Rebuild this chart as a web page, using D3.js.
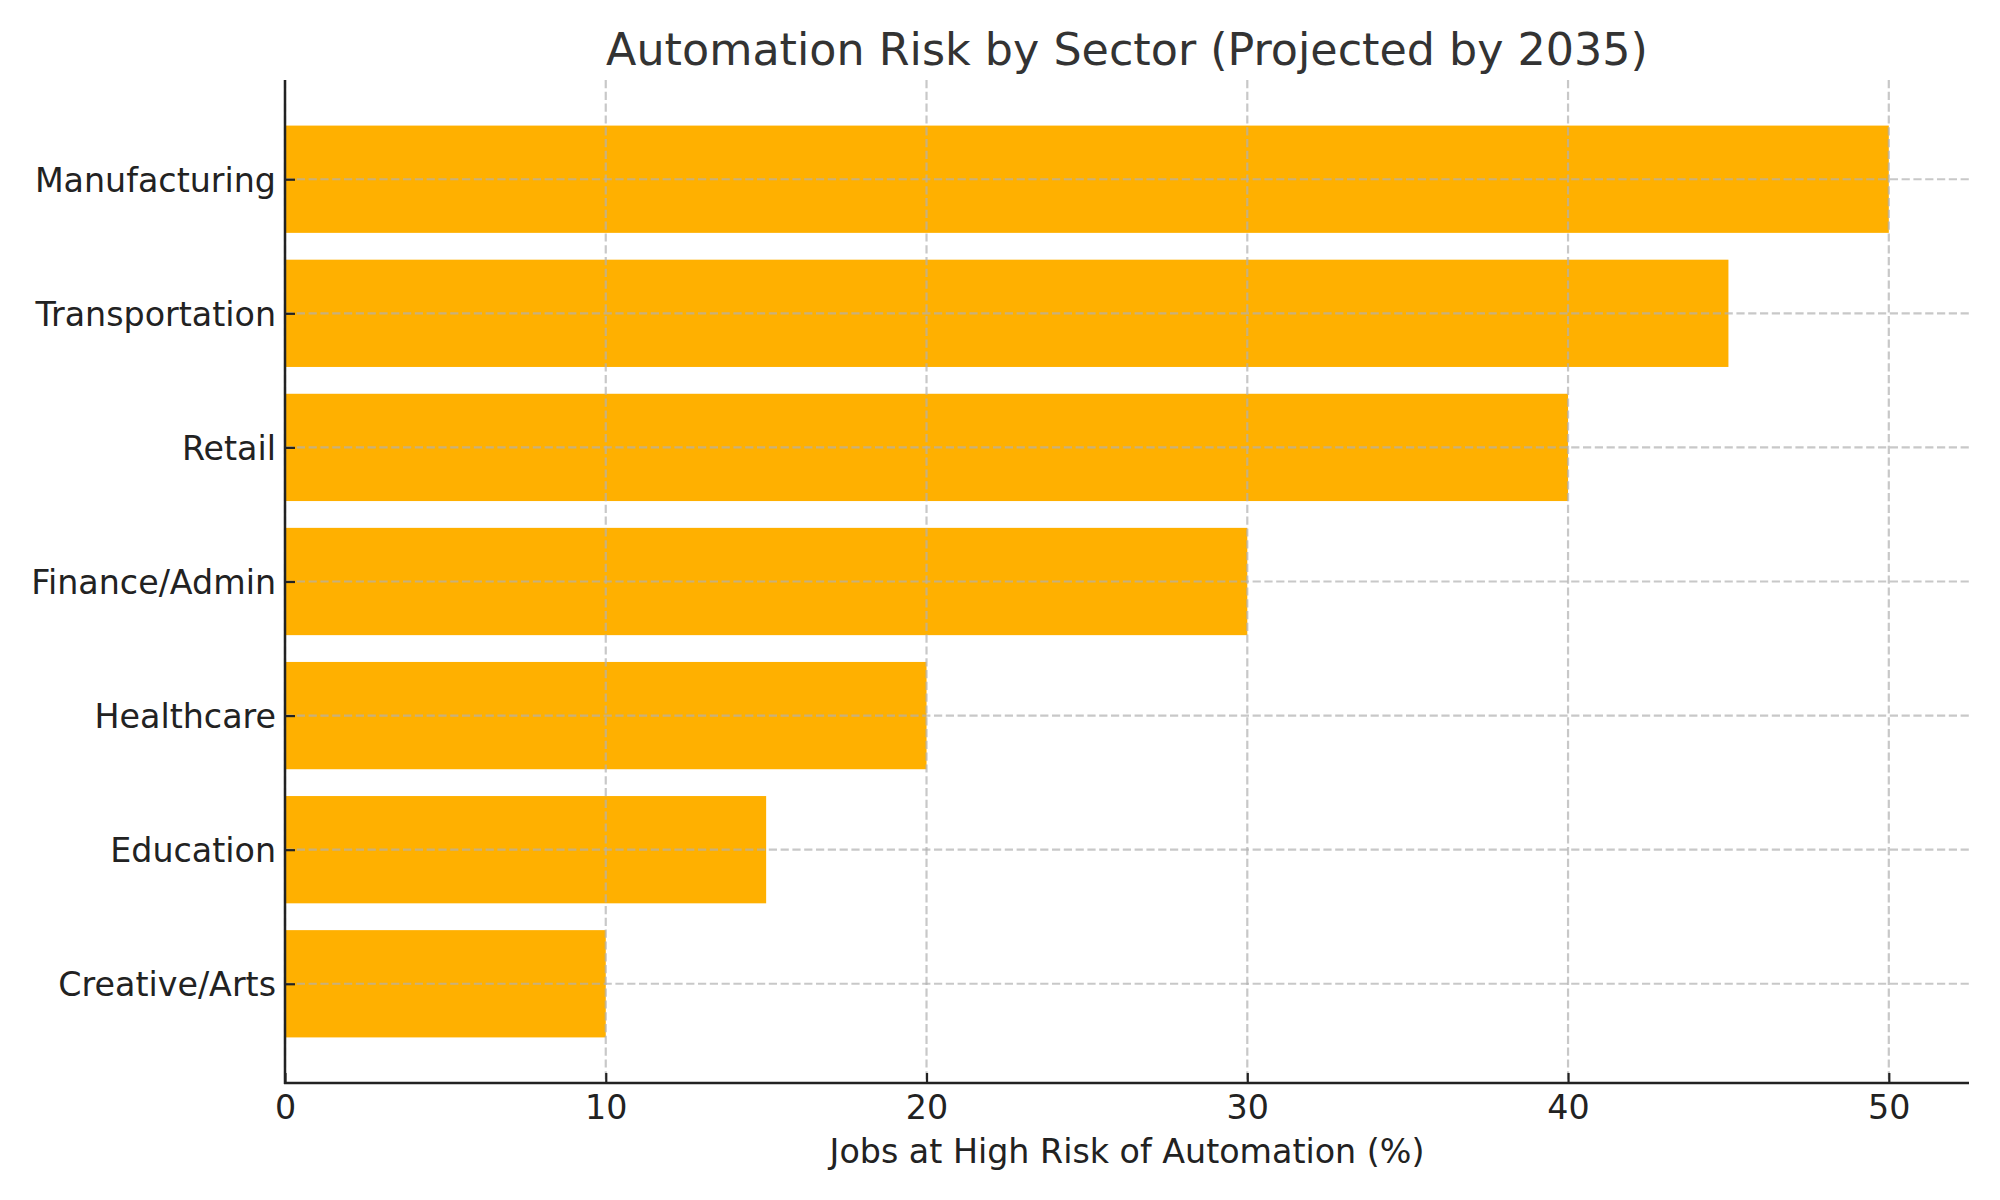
<!DOCTYPE html>
<html>
<head>
<meta charset="utf-8">
<script src="https://cdn.jsdelivr.net/npm/d3@7"></script>
<style>
  html, body { margin: 0; padding: 0; background: #fff; }
  svg { display: block; }
  text { font-family: "DejaVu Sans", sans-serif; }
</style>
</head>
<body>
<script>
const sectors = ["Manufacturing", "Transportation", "Retail", "Finance/Admin", "Healthcare", "Education", "Creative/Arts"];
const riskValues = [50, 45, 40, 30, 20, 15, 10];
const xTicks = [0, 10, 20, 30, 40, 50];
const chartTitle = "Automation Risk by Sector (Projected by 2035)";
const xLabel = "Jobs at High Risk of Automation (%)";

const W = 2000, H = 1200;
const mLeft = 285, mRight = 1969, mTop = 80, mBottom = 1083;

const svg = d3.select("body").append("svg").attr("width", W).attr("height", H);

const x = d3.scaleLinear().domain([0, 52.5]).range([mLeft, mRight]);
// index 0 = top category; matplotlib-like y limits with margins
const n = sectors.length;
const y = d3.scaleLinear().domain([-0.74, n - 1 + 0.74]).range([mTop, mBottom]);
const barH = 0.8;

// bars
svg.append("g").selectAll("rect").data(sectors).join("rect")
  .attr("x", x(0))
  .attr("y", (d, i) => y(i - barH / 2))
  .attr("width", (d, i) => x(riskValues[i]) - x(0))
  .attr("height", y(barH) - y(0))
  .attr("fill", "#FFB000");

// grid (drawn above bars, semi-transparent)
const grid = svg.append("g").attr("stroke", "#b0b0b0").attr("stroke-opacity", 0.7)
  .attr("stroke-width", 2.2).attr("stroke-dasharray", "8.2,3.6");
grid.selectAll("line.v").data(xTicks).join("line").attr("class", "v")
  .attr("x1", d => x(d)).attr("x2", d => x(d)).attr("y1", mTop).attr("y2", mBottom);
grid.selectAll("line.h").data(sectors).join("line").attr("class", "h")
  .attr("x1", mLeft).attr("x2", mRight).attr("y1", (d, i) => y(i)).attr("y2", (d, i) => y(i));

// x axis
const xAxis = d3.axisBottom(x).tickValues(xTicks).tickSize(-10).tickPadding(0).tickFormat(d3.format("d"));
const gx = svg.append("g").attr("transform", `translate(0,${mBottom})`).call(xAxis);
gx.select(".domain").remove();
gx.selectAll(".tick line").attr("stroke", "#222").attr("stroke-width", 2.2);
gx.selectAll(".tick text").attr("fill", "#222").attr("font-size", 33.3)
  .attr("y", 36).attr("dy", 0);

// y axis
const yAxis = d3.axisLeft(y).tickValues(d3.range(n)).tickSize(-10).tickPadding(9)
  .tickFormat(i => sectors[i]);
const gy = svg.append("g").attr("transform", `translate(${mLeft},0)`).call(yAxis);
gy.select(".domain").remove();
gy.selectAll(".tick line").attr("stroke", "#222").attr("stroke-width", 2.2);
gy.selectAll(".tick text").attr("fill", "#222").attr("font-size", 33.3).attr("dy", "0.36em");

// spines
svg.append("line").attr("x1", mLeft).attr("x2", mLeft).attr("y1", mTop).attr("y2", mBottom + 1)
  .attr("stroke", "#222").attr("stroke-width", 2.5);
svg.append("line").attr("x1", mLeft - 1).attr("x2", mRight).attr("y1", mBottom).attr("y2", mBottom)
  .attr("stroke", "#222").attr("stroke-width", 2.5);

// title
svg.append("text").attr("x", (mLeft + mRight) / 2).attr("y", 65).attr("text-anchor", "middle")
  .attr("font-size", 44.4).attr("fill", "#333").text(chartTitle);

// x label
svg.append("text").attr("x", (mLeft + mRight) / 2).attr("y", 1163).attr("text-anchor", "middle")
  .attr("font-size", 33.3).attr("fill", "#222").text(xLabel);
</script>
</body>
</html>
